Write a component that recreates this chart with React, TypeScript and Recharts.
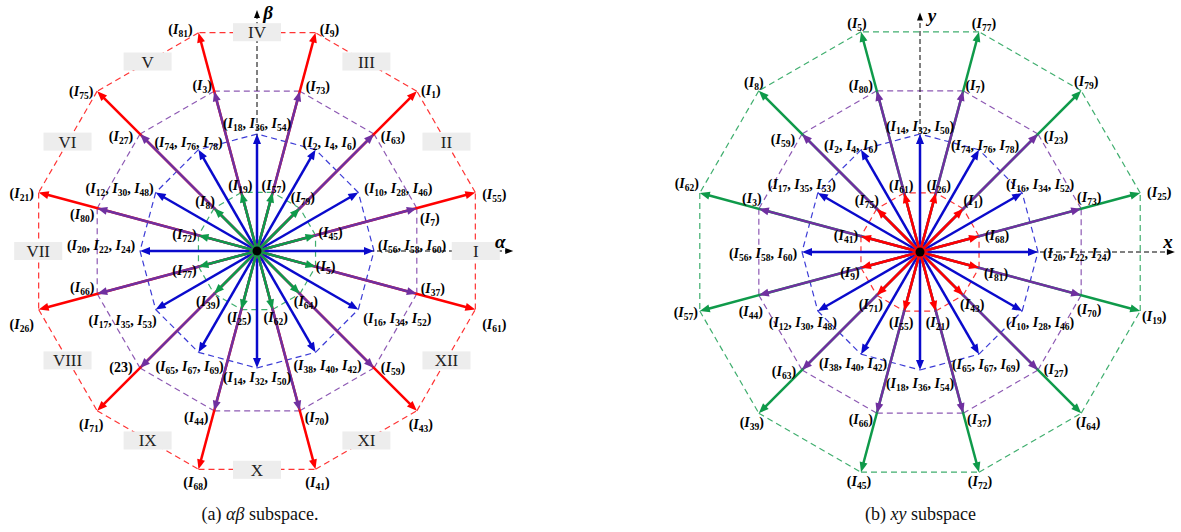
import React from "react";
import { ScatterChart, Scatter, XAxis, YAxis, ReferenceLine, ReferenceDot } from "recharts";

// magnitudes of the four vector groups, relative to the unit (blue) group
const MAG_LONG = 1.932;
const MAG_MID = 1.414;
const MAG_UNIT = 1;
const MAG_SHORT = 0.518;
const SECTOR_MAG = 1.87;

const ODD_ANGLES = [15, 45, 75, 105, 135, 165, 195, 225, 255, 285, 315, 345];
const EVEN_ANGLES = [0, 30, 60, 90, 120, 150, 180, 210, 240, 270, 300, 330];

// αβ subspace
const AB_LONG = ["I55", "I1", "I9", "I81", "I75", "I21", "I26", "I71", "I68", "I41", "I43", "I61"];
const AB_MID = ["I7", "I63", "I73", "I3", "I27", "I80", "I66", "23", "I44", "I70", "I59", "I37"];
const AB_SHORT = ["I45", "I79", "I57", "I19", "I8", "I72", "I77", "I39", "I25", "I62", "I64", "I5"];
const AB_UNIT = [
  "I56,I58,I60", "I10,I28,I46", "I2,I4,I6", "I18,I36,I54", "I74,I76,I78", "I12,I30,I48",
  "I20,I22,I24", "I17,I35,I53", "I65,I67,I69", "I14,I32,I50", "I38,I40,I42", "I16,I34,I52",
];
const SECTORS = ["I", "II", "III", "IV", "V", "VI", "VII", "VIII", "IX", "X", "XI", "XII"];

// xy subspace
const XY_LONG = ["I25", "I79", "I77", "I5", "I8", "I62", "I57", "I39", "I45", "I72", "I64", "I19"];
const XY_MID = ["I73", "I23", "I7", "I80", "I59", "I3", "I44", "I63", "I66", "I37", "I27", "I70"];
const XY_SHORT = ["I68", "I1", "I26", "I61", "I75", "I41", "I9", "I71", "I55", "I21", "I43", "I81"];
const XY_UNIT = [
  "I20,I22,I24", "I16,I34,I52", "I74,I76,I78", "I14,I32,I50", "I2,I4,I6", "I17,I35,I53",
  "I56,I58,I60", "I12,I30,I48", "I38,I40,I42", "I18,I36,I54", "I65,I67,I69", "I10,I28,I46",
];

const RED = "#ff0000";
const PURPLE = "#7030a0";
const BLUE = "#0a0acc";
const GREEN = "#0f9a4a";
const SERIF = "'Liberation Serif', 'Times New Roman', serif";

// label nudges in px, one per vector
const AB_LONG_OFF = [[19, 3], [14, 0], [14, -3], [-18, -3], [-16, 1], [-17, 2], [-17, 15], [-6, 14], [-3, 14], [2, 14], [4, 14], [19, 15]];
const AB_MID_OFF = [[13, 11], [19, 3], [18, -4], [-12, -5], [-19, 3], [-15, 7], [-15, -6], [-19, 0], [-18, 7], [17, 7], [19, 0], [16, -5]];
const AB_SHORT_OFF = [[15, -2], [3, -10], [1, -6], [-1, -6], [-9, -6], [-14, 0], [-14, 4], [-6, 8], [-2, 8], [3, 8], [6, 8], [10, 0]];
const AB_UNIT_OFF = [[38, -5], [40, -4], [14, -7], [0, -10], [-10, -7], [-36, -4], [-39, -5], [-33, 11], [-9, 15], [0, 10], [12, 14], [39, 9]];
const XY_LONG_OFF = [[19, 0], [5, -9], [5, -8], [-4, -8], [-5, -8], [-13, -9], [-14, 2], [-7, 10], [-2, 10], [1, 10], [7, 10], [14, 6]];
const XY_MID_OFF = [[8, -11], [18, 3], [12, -5], [-16, -5], [-19, 6], [-7, -10], [-8, 17], [-18, 2], [-16, 7], [16, 7], [18, 0], [8, 15]];
const XY_SHORT_OFF = [[18, 0], [10, -8], [3, -7], [-3, -7], [-10, -8], [-15, 0], [-11, 5], [-6, 10], [-3, 12], [2, 12], [9, 10], [17, 6]];
const XY_UNIT_OFF = [[39, 2], [18, -8], [6, -4], [0, -7], [-10, -4], [-16, -8], [-39, 2], [-15, 12], [-8, 10], [0, 14], [7, 11], [18, 12]];

type Ring = { mag: number; angles: number[]; names: string[]; color: string; offsets: number[][] };
type Axis = { len: number; name: string; dx: number; dy: number };

const polar = (mag: number, deg: number) => ({
  x: mag * Math.cos((deg * Math.PI) / 180),
  y: mag * Math.sin((deg * Math.PI) / 180),
});

const arrowShape = (color: string, width: number, head: number, half: number, dash?: string) => (p: any) => {
  const { x1, y1, x2, y2 } = p;
  const len = Math.hypot(x2 - x1, y2 - y1) || 1;
  const ux = (x2 - x1) / len;
  const uy = (y2 - y1) / len;
  const bx = x2 - ux * head;
  const by = y2 - uy * head;
  return (
    <g>
      <line x1={x1} y1={y1} x2={bx + ux} y2={by + uy} stroke={color} strokeWidth={width} strokeDasharray={dash} />
      <polygon
        points={`${x2},${y2} ${bx - uy * half},${by + ux * half} ${bx + uy * half},${by - ux * half}`}
        fill={color}
      />
    </g>
  );
};

function VecLabel({ x, y, text }: { x: number; y: number; text: string }) {
  const parts = text.split(",");
  return (
    <text x={x} y={y + 4} textAnchor="middle" fontFamily={SERIF} fontWeight="bold" fontSize={14} fill="#000">
      <tspan>(</tspan>
      {parts.map((p, i) => {
        const tail = i < parts.length - 1 ? ", " : ")";
        if (!p.startsWith("I")) return <tspan key={i}>{p + tail}</tspan>;
        return (
          <React.Fragment key={i}>
            <tspan fontStyle="italic">I</tspan>
            <tspan fontSize={9.5} dy={3}>{p.slice(1)}</tspan>
            <tspan dy={-3}>{tail}</tspan>
          </React.Fragment>
        );
      })}
    </text>
  );
}

function SectorBox({ x, y, text }: { x: number; y: number; text: string }) {
  return (
    <g>
      <rect x={x - 24} y={y - 9} width={48} height={18} fill="#ededed" />
      <text x={x} y={y + 6} textAnchor="middle" fontFamily={SERIF} fontSize={17} fill="#222">
        {text}
      </text>
    </g>
  );
}

function Panel(props: {
  left: number;
  xDomain: [number, number];
  yDomain: [number, number];
  unit: Ring;
  stack: Ring[]; // long, mid, short — drawn on top of each other
  hAxis: Axis;
  vAxis: Axis;
  sectors?: string[];
}) {
  const { left, xDomain, yDomain, unit, stack, hAxis, vAxis, sectors } = props;
  const rings = [...stack, unit];
  const axisArrow = arrowShape("#000", 1, 8, 3, "5 3");

  return (
    <div style={{ position: "absolute", left, top: 0 }}>
      <ScatterChart width={left === 0 ? 520 : 521} height={500} margin={{ top: 0, right: 0, bottom: 0, left: 0 }}>
        <XAxis type="number" dataKey="x" domain={xDomain} hide allowDataOverflow />
        <YAxis type="number" dataKey="y" domain={yDomain} hide allowDataOverflow />

        {/* dashed outlines joining the vector tips */}
        {rings.flatMap((r, ri) =>
          r.angles.map((a, i) => {
            const p = polar(r.mag, a);
            const q = polar(r.mag, r.angles[(i + 1) % r.angles.length]);
            return (
              <ReferenceLine
                key={`edge-${ri}-${i}`}
                segment={[p, q]}
                stroke={r.color}
                strokeOpacity={0.8}
                strokeWidth={1.2}
                strokeDasharray="6 4"
                ifOverflow="visible"
              />
            );
          })
        )}

        {/* reference axes */}
        <ReferenceLine segment={[{ x: 0, y: 0 }, { x: hAxis.len, y: 0 }]} shape={axisArrow} ifOverflow="visible" />
        <ReferenceLine segment={[{ x: 0, y: 0 }, { x: 0, y: vAxis.len }]} shape={axisArrow} ifOverflow="visible" />

        {/* vectors */}
        {[unit, ...stack].flatMap((r, ri) =>
          r.angles.map((a, i) => (
            <ReferenceLine
              key={`vec-${ri}-${i}`}
              segment={[{ x: 0, y: 0 }, polar(r.mag, a)]}
              shape={arrowShape(r.color, 2.5, 10, 4)}
              ifOverflow="visible"
            />
          ))
        )}

        <Scatter
          data={[{ x: 0, y: 0 }]}
          isAnimationActive={false}
          shape={(p: any) => <circle cx={p.cx} cy={p.cy} r={4.5} fill="#000" />}
        />

        {rings.flatMap((r, ri) =>
          r.angles.map((a, i) => {
            const p = polar(r.mag, a);
            const [dx, dy] = r.offsets[i];
            return (
              <ReferenceDot
                key={`lab-${ri}-${i}`}
                x={p.x}
                y={p.y}
                ifOverflow="visible"
                shape={(s: any) => <VecLabel x={s.cx + dx} y={s.cy + dy} text={r.names[i]} />}
              />
            );
          })
        )}

        {sectors &&
          sectors.map((s, i) => {
            const p = polar(SECTOR_MAG, EVEN_ANGLES[i]);
            return (
              <ReferenceDot
                key={`sec-${i}`}
                x={p.x}
                y={p.y}
                ifOverflow="visible"
                shape={(d: any) => <SectorBox x={d.cx} y={d.cy} text={s} />}
              />
            );
          })}

        {[
          { ax: hAxis, x: hAxis.len, y: 0 },
          { ax: vAxis, x: 0, y: vAxis.len },
        ].map(({ ax, x, y }) => (
          <ReferenceDot
            key={ax.name}
            x={x}
            y={y}
            ifOverflow="visible"
            shape={(d: any) => (
              <text
                x={d.cx + ax.dx}
                y={d.cy + ax.dy}
                textAnchor="middle"
                fontFamily={SERIF}
                fontWeight="bold"
                fontStyle="italic"
                fontSize={19}
                fill="#000"
              >
                {ax.name}
              </text>
            )}
          />
        ))}
      </ScatterChart>
    </div>
  );
}

export default function App() {
  return (
    <div style={{ position: "absolute", left: 0, top: 0, width: 1181, height: 532, background: "#fff", fontFamily: SERIF }}>
      <Panel
        left={0}
        xDomain={[-257 / 117, 263 / 117]}
        yDomain={[-249 / 117, 251 / 117]}
        unit={{ mag: MAG_UNIT, angles: EVEN_ANGLES, names: AB_UNIT, color: BLUE, offsets: AB_UNIT_OFF }}
        stack={[
          { mag: MAG_LONG, angles: ODD_ANGLES, names: AB_LONG, color: RED, offsets: AB_LONG_OFF },
          { mag: MAG_MID, angles: ODD_ANGLES, names: AB_MID, color: PURPLE, offsets: AB_MID_OFF },
          { mag: MAG_SHORT, angles: ODD_ANGLES, names: AB_SHORT, color: GREEN, offsets: AB_SHORT_OFF },
        ]}
        hAxis={{ len: 2.19, name: "α", dx: -13, dy: -3 }}
        vAxis={{ len: 2.06, name: "β", dx: 11, dy: 9 }}
        sectors={SECTORS}
      />
      <Panel
        left={660}
        xDomain={[-260 / 118, 261 / 118]}
        yDomain={[-248 / 118, 252 / 118]}
        unit={{ mag: MAG_UNIT, angles: EVEN_ANGLES, names: XY_UNIT, color: BLUE, offsets: XY_UNIT_OFF }}
        stack={[
          { mag: MAG_LONG, angles: ODD_ANGLES, names: XY_LONG, color: GREEN, offsets: XY_LONG_OFF },
          { mag: MAG_MID, angles: ODD_ANGLES, names: XY_MID, color: PURPLE, offsets: XY_MID_OFF },
          { mag: MAG_SHORT, angles: ODD_ANGLES, names: XY_SHORT, color: RED, offsets: XY_SHORT_OFF },
        ]}
        hAxis={{ len: 2.16, name: "x", dx: -7, dy: -4 }}
        vAxis={{ len: 2.03, name: "y", dx: 12, dy: 10 }}
      />
      <div style={{ position: "absolute", left: 0, width: 520, top: 504, textAlign: "center", fontSize: 18, color: "#111" }}>
        (a) <i>αβ</i> subspace.
      </div>
      <div style={{ position: "absolute", left: 660, width: 521, top: 504, textAlign: "center", fontSize: 18, color: "#111" }}>
        (b) <i>xy</i> subspace
      </div>
    </div>
  );
}
